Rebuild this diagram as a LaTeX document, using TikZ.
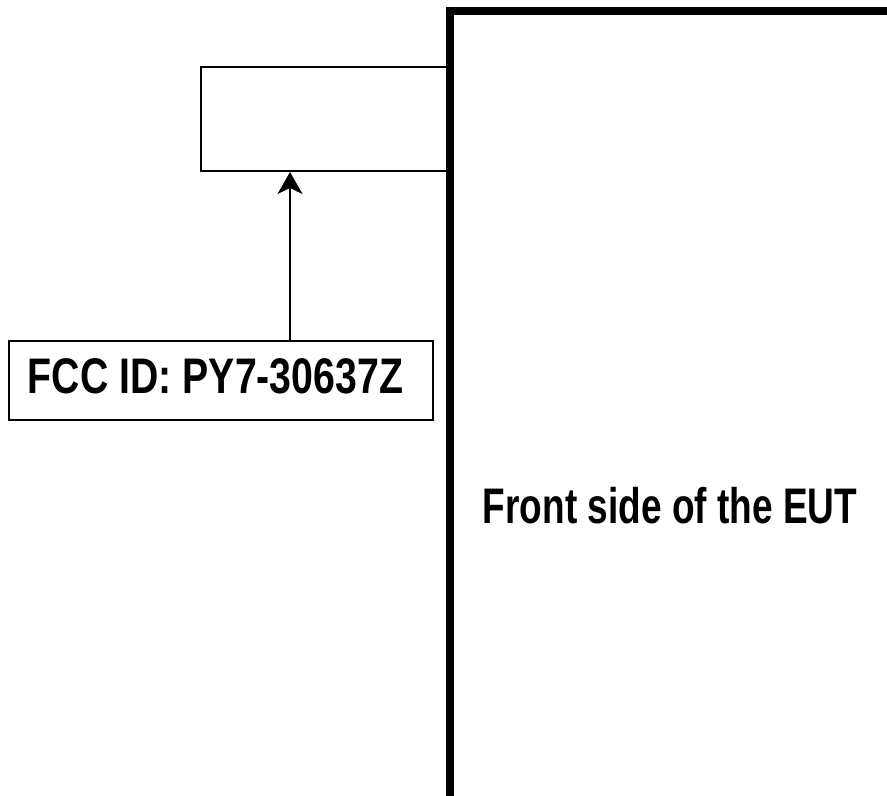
\documentclass[tikz,border=0pt]{standalone}
\usepackage{fontspec}
\usepackage{tikz}
\usetikzlibrary{arrows.meta, positioning}
\newfontfamily\idfont[FakeStretch=0.785]{Liberation Sans}
\newfontfamily\euttext[FakeStretch=0.74]{Liberation Sans}

\begin{document}
\begin{tikzpicture}[x=0.5pt, y=-0.5pt,
    thin line/.style={line width=1pt},
    box/.style={draw, thin line, inner sep=0pt, anchor=north west},
    label text/.style={anchor=base, inner sep=0pt, font=\idfont\fontsize{25}{28}\selectfont\bfseries}]
    \useasboundingbox (0,0) rectangle (887,796);

    % label plate on the front side
    \node[box, minimum width=124.5pt, minimum height=52pt] (plate) at (200,66) {};
    % FCC ID label
    \node[box, minimum width=212pt, minimum height=39.5pt] (fccid) at (8,340) {};
    \node[label text] (fcctext) at (215.5,393) {FCC ID: PY7-30637Z};
    \coordinate (fcc) at (290,0);

    \draw[thin line, -{Stealth[length=11pt, width=12.5pt, inset=3pt]}]
    (fccid.north -| fcc) -- (plate.south -| fcc);

    % outline of the EUT
    \draw[line width=4pt, miter limit=4] (450,800) -- (450,11) -- (895,11);
    \node[anchor=base, inner sep=0pt, font=\euttext\fontsize{25}{28}\selectfont\bfseries] (eut) at (670,523) {Front side of the EUT};

\end{tikzpicture}
\end{document}
